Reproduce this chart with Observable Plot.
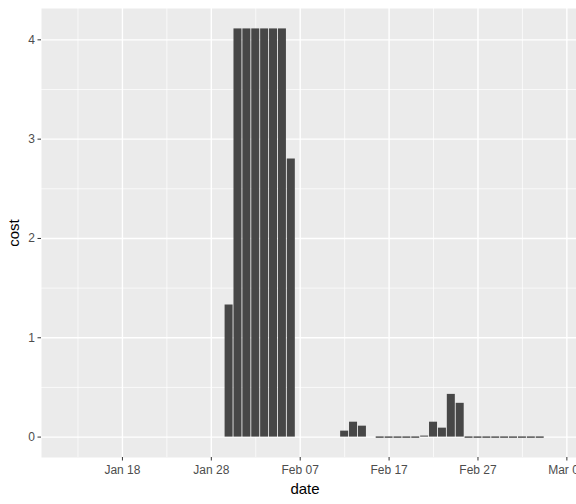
<!DOCTYPE html>
<html>
<head>
<meta charset="utf-8">
<script src="https://cdn.jsdelivr.net/npm/d3@7"></script>
<script src="https://cdn.jsdelivr.net/npm/@observablehq/plot@0.6"></script>
<style>
  html, body { margin: 0; padding: 0; background: #fff; }
  #chart svg { display: block; }
</style>
</head>
<body>
<div id="chart"></div>
<script>
// ---- data ----
const dates = [
  "2020-01-30","2020-01-31","2020-02-01","2020-02-02","2020-02-03","2020-02-04","2020-02-05","2020-02-06",
  "2020-02-12","2020-02-13","2020-02-14",
  "2020-02-16","2020-02-17","2020-02-18","2020-02-19","2020-02-20",
  "2020-02-21","2020-02-22","2020-02-23","2020-02-24","2020-02-25",
  "2020-02-26","2020-02-27","2020-02-28","2020-02-29","2020-03-01","2020-03-02","2020-03-03","2020-03-04","2020-03-05"
];
const costs = [
  1.33, 4.11, 4.11, 4.11, 4.11, 4.11, 4.11, 2.80,
  0.06, 0.15, 0.11,
  0, 0, 0, 0, 0,
  0.01, 0.15, 0.09, 0.43, 0.34,
  0, 0, 0, 0, 0, 0, 0, 0, 0
];
const xMajorTicks = ["2020-01-18","2020-01-28","2020-02-07","2020-02-17","2020-02-27","2020-03-08"];
const xMinorTicks = ["2020-01-13","2020-01-23","2020-02-02","2020-02-12","2020-02-22","2020-03-03"];
const yMajorTicks = [0, 1, 2, 3, 4];
const yMinorTicks = [0.5, 1.5, 2.5, 3.5];
const xDomain = ["2020-01-08T21:30:00Z", "2020-03-09T02:00:00Z"];
const yDomain = [-0.2055, 4.3155];
const xLabel = "date";
const yLabel = "cost";

// ---- build ----
const DAY = 864e5;
const data = dates.map((d, i) => ({date: new Date(d), cost: costs[i]}));
const zeroData = data.filter(d => d.cost === 0);
const barData = data.filter(d => d.cost !== 0);
const toDate = s => new Date(s);
const fmt = d3.utcFormat("%b %d");
const textColor = "#4D4D4D";

const chart = Plot.plot({
  width: 576,
  height: 504,
  marginLeft: 41,
  marginRight: 0,
  marginTop: 8,
  marginBottom: 47,
  style: {fontFamily: "'Liberation Sans', Arial, Helvetica, sans-serif", background: "#fff"},
  x: {type: "utc", domain: xDomain.map(toDate)},
  y: {domain: yDomain},
  marks: [
    Plot.frame({fill: "#EBEBEB", stroke: null}),
    Plot.gridY(yMinorTicks, {stroke: "#fff", strokeOpacity: 1, strokeWidth: 0.7}),
    Plot.gridX(xMinorTicks.map(toDate), {stroke: "#fff", strokeOpacity: 1, strokeWidth: 0.7}),
    Plot.gridY(yMajorTicks, {stroke: "#fff", strokeOpacity: 1, strokeWidth: 1.4}),
    Plot.gridX(xMajorTicks.map(toDate), {stroke: "#fff", strokeOpacity: 1, strokeWidth: 1.4}),
    Plot.rectY(barData, {
      x1: d => new Date(+d.date - 0.45 * DAY),
      x2: d => new Date(+d.date + 0.45 * DAY),
      y1: 0, y2: "cost", fill: "#474747"
    }),
    Plot.ruleY(zeroData, {
      x1: d => new Date(+d.date - 0.45 * DAY),
      x2: d => new Date(+d.date + 0.45 * DAY),
      y: "cost", stroke: "#3a3a3a", strokeWidth: 1.3
    }),
    Plot.axisX(xMajorTicks.map(toDate), {
      tickFormat: fmt, tickSize: 3.5, tickPadding: 4, stroke: "#333",
      color: textColor, fontSize: 12, label: null
    }),
    Plot.axisY(yMajorTicks, {
      tickFormat: d => String(d), tickSize: 3.5, tickPadding: 3, stroke: "#333",
      color: textColor, fontSize: 12, label: null
    }),
    Plot.text([xLabel], {frameAnchor: "bottom", dy: 36, dx: -4, fontSize: 15, fill: "#000", lineAnchor: "bottom"}),
    Plot.text([yLabel], {frameAnchor: "left", dx: -27, rotate: -90, fontSize: 15, fill: "#000", textAnchor: "middle"})
  ]
});
document.getElementById("chart").appendChild(chart);
</script>
</body>
</html>
